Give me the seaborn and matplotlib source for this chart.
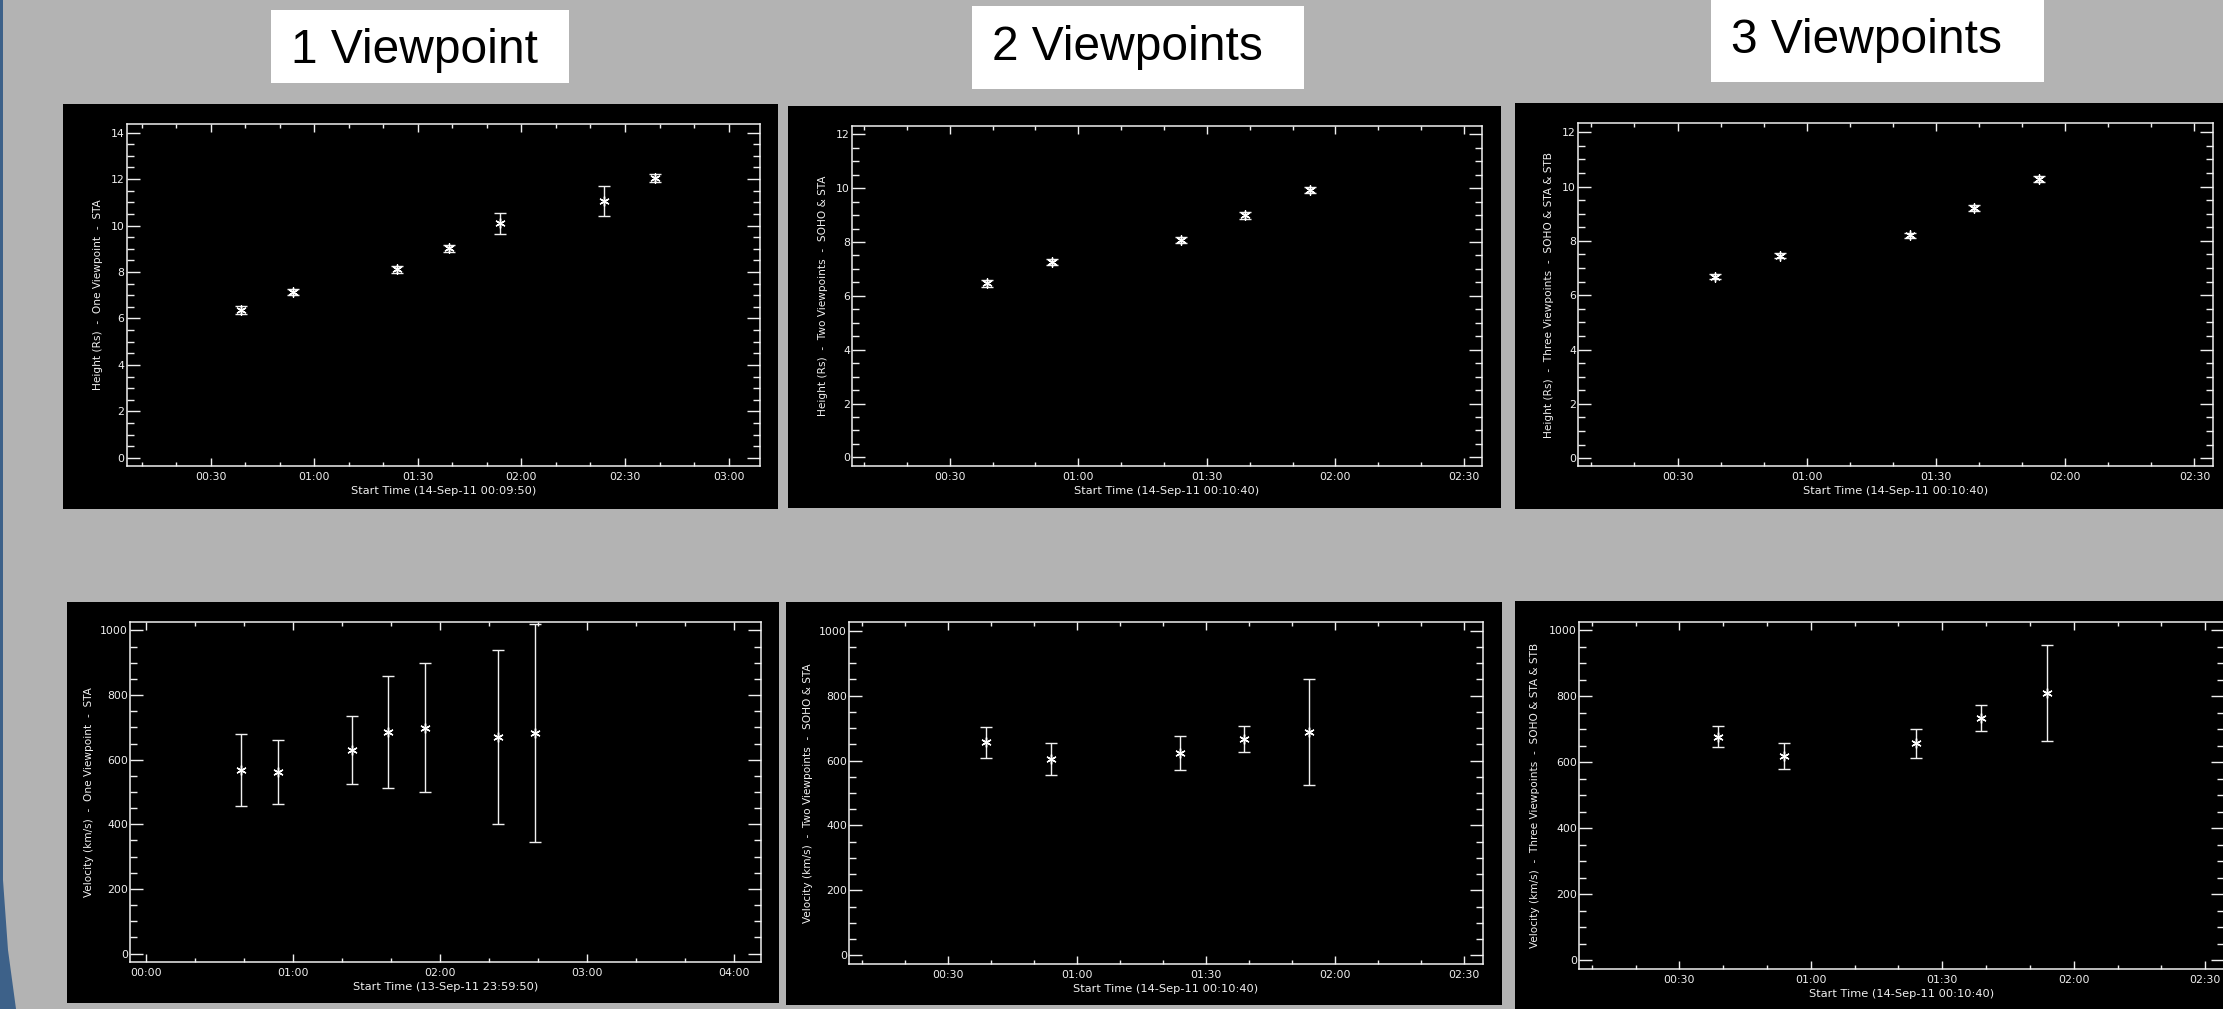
import matplotlib
matplotlib.use("Agg")
import matplotlib.pyplot as plt
from matplotlib.patches import Rectangle, Polygon
from matplotlib.ticker import MultipleLocator, FuncFormatter
import seaborn as sns

W, H = 2223, 1009

# observation times (minutes after 00:00 on the clock axis)
times_one = [38.9, 53.9, 84.0, 98.9, 113.9, 143.9, 158.8]
times_multi = [38.8, 53.9, 84.0, 98.9, 114.0]

# heights (Rs) and errors
height_one = [6.37, 7.14, 8.12, 9.02, 10.10, 11.05, 12.06]
height_one_err = [0.16, 0.12, 0.15, 0.16, 0.45, 0.66, 0.17]
height_two = [6.46, 7.24, 8.07, 8.99, 9.93]
height_two_err = [0.12, 0.11, 0.11, 0.12, 0.11]
height_three = [6.68, 7.46, 8.20, 9.21, 10.27]
height_three_err = [0.10, 0.10, 0.10, 0.11, 0.11]

# velocities (km/s) and errors
vel_one = [568, 562, 629, 685, 699, 670, 682]
vel_one_err = [110, 100, 105, 174, 200, 268, 337]
vel_two = [656, 604, 623, 665, 688]
vel_two_err = [48, 50, 53, 40, 164]
vel_three = [677, 620, 658, 735, 810]
vel_three_err = [32, 39, 44, 39, 145]

titles = ["1 Viewpoint", "2 Viewpoints", "3 Viewpoints"]

sns.set_theme(style="dark")
plt.rcParams["font.family"] = ["DejaVu Sans"]

BG = "#b3b3b3"
FG = "#f0f0f0"

fig = plt.figure(figsize=(W / 100, H / 100), dpi=100, facecolor=BG)


def frac(x0, y0, x1, y1):
    # pixel box (top-left origin) -> figure fraction [left, bottom, width, height]
    return [x0 / W, 1 - y1 / H, (x1 - x0) / W, (y1 - y0) / H]


def hhmm(v, pos):
    m = int(round(v))
    return f"{m // 60:02d}:{m % 60:02d}"


# slide edge on the left
fig.patches.append(Polygon([(0, 1), (3 / W, 1), (3 / W, 1 - 880 / H), (8 / W, 1 - 950 / H),
                            (16 / W, 0), (0, 0)], closed=True, transform=fig.transFigure,
                           facecolor="#3d6189", edgecolor="none", zorder=-5))

# title boxes
title_boxes = [(271, 10, 569, 83, 63), (972, 6, 1304, 89, 60), (1711, 0, 2044, 82, 53)]
for t, (x0, y0, x1, y1, base) in zip(titles, title_boxes):
    fig.patches.append(Rectangle((x0 / W, 1 - y1 / H), (x1 - x0) / W, (y1 - y0) / H,
                                 transform=fig.transFigure, facecolor="white", edgecolor="none",
                                 zorder=-5))
    fig.text((x0 + 20) / W, 1 - base / H, t, fontsize=34.5, color="black",
             family=["Liberation Sans", "DejaVu Sans"], ha="left", va="baseline")

panels = [
    # black panel, axes box, xlim, ylim, x major/minor, y major/minor, data, labels, ylabel offset
    dict(panel=(63, 104, 778, 509), box=(126.5, 124, 760, 466), xlim=(5.6, 189.1), ylim=(-0.35, 14.37),
         xt=(30, 10), yt=(2, 0.5), x=times_one, y=height_one, e=height_one_err,
         ylab="Height (Rs)  -  One Viewpoint  -  STA", xlab="Start Time (14-Sep-11 00:09:50)", yoff=23.5),
    dict(panel=(788, 106, 1501, 508), box=(852, 125.7, 1482, 465.7), xlim=(7.2, 154.2), ylim=(-0.31, 12.32),
         xt=(30, 10), yt=(2, 0.5), x=times_multi, y=height_two, e=height_two_err,
         ylab="Height (Rs)  -  Two Viewpoints  -  SOHO & STA", xlab="Start Time (14-Sep-11 00:10:40)", yoff=24.5),
    dict(panel=(1515, 103, 2230, 509), box=(1578, 123.3, 2213, 466), xlim=(6.9, 154.3), ylim=(-0.29, 12.33),
         xt=(30, 10), yt=(2, 0.5), x=times_multi, y=height_three, e=height_three_err,
         ylab="Height (Rs)  -  Three Viewpoints  -  SOHO & STA & STB", xlab="Start Time (14-Sep-11 00:10:40)", yoff=24),
    dict(panel=(67, 602, 779, 1003), box=(130, 622, 761, 962), xlim=(-6.4, 251), ylim=(-26, 1026),
         xt=(60, 20), yt=(200, 50), x=times_one, y=vel_one, e=vel_one_err,
         ylab="Velocity (km/s)  -  One Viewpoint  -  STA", xlab="Start Time (13-Sep-11 23:59:50)", yoff=36),
    dict(panel=(786, 602, 1502, 1005), box=(849, 622, 1483, 964), xlim=(6.9, 154.4), ylim=(-26.7, 1026.7),
         xt=(30, 10), yt=(200, 50), x=times_multi, y=vel_two, e=vel_two_err,
         ylab="Velocity (km/s)  -  Two Viewpoints  -  SOHO & STA", xlab="Start Time (14-Sep-11 00:10:40)", yoff=36),
    dict(panel=(1515, 601, 2230, 1015), box=(1579, 622, 2224, 969), xlim=(7.1, 154.3), ylim=(-26.2, 1025),
         xt=(30, 10), yt=(200, 50), x=times_multi, y=vel_three, e=vel_three_err,
         ylab="Velocity (km/s)  -  Three Viewpoints  -  SOHO & STA & STB", xlab="Start Time (14-Sep-11 00:10:40)", yoff=38.5),
]

for p in panels:
    x0, y0, x1, y1 = p["panel"]
    fig.patches.append(Rectangle((x0 / W, 1 - y1 / H), (x1 - x0) / W, (y1 - y0) / H,
                                 transform=fig.transFigure, facecolor="black", edgecolor="none",
                                 zorder=-5))
    bx0, by0, bx1, by1 = p["box"]
    ax = fig.add_axes(frac(bx0, by0, bx1, by1))
    ax.set_facecolor("black")

    ax.errorbar(p["x"], p["y"], yerr=p["e"], fmt="none", ecolor=FG, elinewidth=1.0,
                capsize=4, capthick=1.0, zorder=2)
    sns.scatterplot(x=p["x"], y=p["y"], ax=ax, marker=(6, 2, 0), s=45, color="white",
                    linewidth=1.0, zorder=3)

    ax.set_xlim(*p["xlim"])
    ax.set_ylim(*p["ylim"])
    ax.xaxis.set_major_locator(MultipleLocator(p["xt"][0]))
    ax.xaxis.set_minor_locator(MultipleLocator(p["xt"][1]))
    ax.yaxis.set_major_locator(MultipleLocator(p["yt"][0]))
    ax.yaxis.set_minor_locator(MultipleLocator(p["yt"][1]))
    ax.xaxis.set_major_formatter(FuncFormatter(hhmm))
    ax.yaxis.set_major_formatter(FuncFormatter(lambda v, pos: f"{v:g}"))

    ax.grid(False)
    for s in ax.spines.values():
        s.set_visible(True)
        s.set_color(FG)
        s.set_linewidth(1.1)

    ax.tick_params(which="both", direction="in", top=True, right=True, bottom=True, left=True,
                   colors=FG, labelcolor=FG, labelsize=7.8, width=1.0)
    ax.tick_params(axis="x", which="major", length=6, pad=4.5)
    ax.tick_params(axis="x", which="minor", length=3)
    ax.tick_params(axis="y", which="major", length=9.5, pad=1.5)
    ax.tick_params(axis="y", which="minor", length=5)

    bw = bx1 - bx0
    bh = by1 - by0
    ax.set_ylabel(p["ylab"], color=FG, fontsize=7.6)
    ax.yaxis.set_label_coords(-p["yoff"] / bw, 0.5)
    ax.set_xlabel(p["xlab"], color=FG, fontsize=8.2)
    ax.xaxis.set_label_coords(0.5, -20 / bh)

fig.savefig("out.png", dpi=100, facecolor=BG)
